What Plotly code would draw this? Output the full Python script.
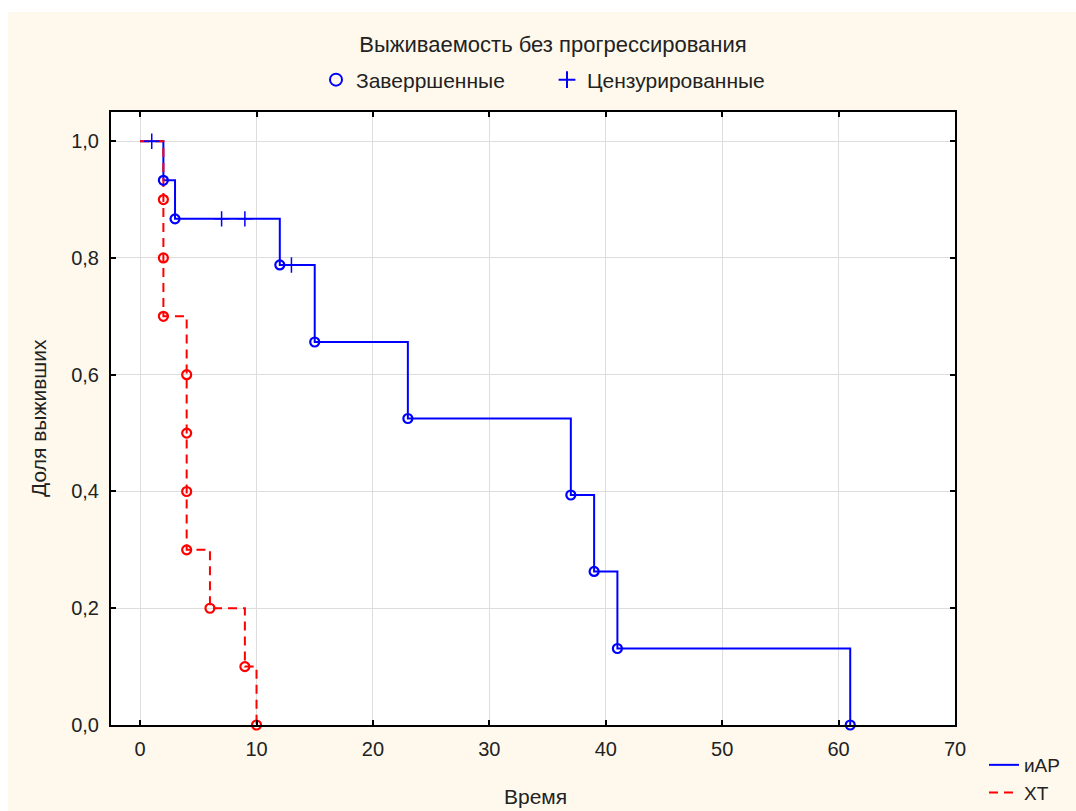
import plotly.graph_objects as go

# ---- data ----
iar_times = [0, 1, 2, 3, 7, 9, 12, 13, 15, 23, 37, 39, 41, 61]
iar_surv = [1.0, 1.0, 0.933, 0.867, 0.867, 0.867, 0.788, 0.788, 0.656, 0.525, 0.394, 0.263, 0.131, 0.0]
iar_event_t = [2, 3, 12, 15, 23, 37, 39, 41, 61]
iar_event_s = [0.933, 0.867, 0.788, 0.656, 0.525, 0.394, 0.263, 0.131, 0.0]
iar_cens_t = [1, 7, 9, 13]
iar_cens_s = [1.0, 0.867, 0.867, 0.788]

xt_times = [0, 2, 2, 2, 4, 4, 4, 4, 6, 9, 10]
xt_surv = [1.0, 0.9, 0.8, 0.7, 0.6, 0.5, 0.4, 0.3, 0.2, 0.1, 0.0]
xt_event_t = [2, 2, 2, 4, 4, 4, 4, 6, 9, 10]
xt_event_s = [0.9, 0.8, 0.7, 0.6, 0.5, 0.4, 0.3, 0.2, 0.1, 0.0]

x_ticks = [0, 10, 20, 30, 40, 50, 60, 70]
y_ticks = [0.0, 0.2, 0.4, 0.6, 0.8, 1.0]

title_text = "Выживаемость без прогрессирования"
x_title = "Время"
y_title = "Доля выживших"
legend_event = "Заверршенные"
legend_cens = "Цензурированные"
group_names = ["иАР", "ХТ"]

BLUE = "#0000FF"
RED = "#FF0000"
CREAM = "#FFF9ED"
FONT = "Liberation Sans, Arial, sans-serif"

W, H = 1076, 811
L, R, T, B = 111, 955, 112, 725

fig = go.Figure()

# step lines
fig.add_trace(go.Scatter(x=iar_times, y=iar_surv, mode="lines", line=dict(color=BLUE, width=2, shape="hv"),
                         name=group_names[0], legend="legend2"))
fig.add_trace(go.Scatter(x=xt_times, y=xt_surv, mode="lines",
                         line=dict(color=RED, width=2, shape="hv", dash="9px,6px"),
                         name=group_names[1], legend="legend2"))

# event markers
fig.add_trace(go.Scatter(x=iar_event_t, y=iar_event_s, mode="markers",
                         marker=dict(symbol="circle-open", size=9, color=BLUE, line=dict(width=2.2)),
                         showlegend=False, cliponaxis=False))
fig.add_trace(go.Scatter(x=xt_event_t, y=xt_event_s, mode="markers",
                         marker=dict(symbol="circle-open", size=9, color=RED, line=dict(width=2.2)),
                         showlegend=False, cliponaxis=False))
# censored markers
fig.add_trace(go.Scatter(x=iar_cens_t, y=iar_cens_s, mode="markers",
                         marker=dict(symbol="cross-thin-open", size=11, color=BLUE, line=dict(width=1.5, color=BLUE)),
                         showlegend=False))

# top legend entries
fig.add_trace(go.Scatter(x=[None], y=[None], mode="markers", name=legend_event,
                         marker=dict(symbol="circle-open", size=8, color=BLUE, line=dict(width=2.5)),
                         legend="legend"))
fig.add_trace(go.Scatter(x=[None], y=[None], mode="markers", name=legend_cens,
                         marker=dict(symbol="cross-thin-open", size=10, color=BLUE, line=dict(width=1.5, color=BLUE)),
                         legend="legend"))

pw, ph = R - L, B - T
def px(xp):
    return (xp - L) / pw
def py(yp):
    return (B - yp) / ph

fig.add_shape(type="rect", xref="paper", yref="paper", x0=px(8), x1=px(W + 5), y0=py(H + 5), y1=py(12),
              fillcolor=CREAM, line=dict(width=0), layer="below")
fig.add_shape(type="rect", xref="paper", yref="paper", x0=0, x1=1, y0=0, y1=1,
              fillcolor="white", line=dict(width=0), layer="below")

fig.add_annotation(text=x_title, xref="paper", yref="paper", x=px(535), y=py(797),
                   xanchor="center", yanchor="middle", showarrow=False, font=dict(size=21, color="#222"))
fig.add_annotation(text=y_title, xref="paper", yref="paper", x=px(38), y=py(418), textangle=-90,
                   xanchor="center", yanchor="middle", showarrow=False, font=dict(size=21, color="#222"))

fig.update_layout(
    width=W, height=H,
    margin=dict(l=L, r=W - R, t=T, b=H - B, pad=0, autoexpand=False),
    paper_bgcolor="white", plot_bgcolor="white",
    separators=", ",
    font=dict(family=FONT, color="#222", size=19),
    title=dict(text=title_text, x=553 / W, xanchor="center", y=1 - 44 / H, yanchor="middle",
               yref="container", xref="container", font=dict(size=22, color="#222")),
    xaxis=dict(range=[-2.5, 70], tickvals=x_ticks, showgrid=True, gridcolor="#DDDDDD", gridwidth=1,
               zeroline=False, showline=True, linecolor="black", linewidth=2, mirror="ticks",
               ticks="inside", ticklen=5, tickwidth=2, tickcolor="black", ticklabelstandoff=5,
               tickfont=dict(size=20, color="#222")),
    yaxis=dict(range=[0, 1.05], tickvals=y_ticks, tickformat=".1f", showgrid=True, gridcolor="#DDDDDD",
               gridwidth=1, zeroline=False, showline=True, linecolor="black", linewidth=2, mirror="ticks",
               ticks="inside", ticklen=5, tickwidth=2, tickcolor="black", ticklabelstandoff=6,
               tickfont=dict(size=20, color="#222")),
    legend=dict(orientation="h", x=316 / W, xref="container", xanchor="left", y=1 - 80 / H,
                yref="container", yanchor="middle", bgcolor="rgba(0,0,0,0)", font=dict(size=21),
                itemsizing="constant", entrywidth=186, entrywidthmode="pixels"),
    legend2=dict(orientation="v", x=984 / W, y=1 - 746 / H, xref="container", yref="container",
                 xanchor="left", yanchor="top",
                 bgcolor="rgba(0,0,0,0)", font=dict(size=19), tracegroupgap=0),
    showlegend=True,
)

fig.write_html("out.html")
